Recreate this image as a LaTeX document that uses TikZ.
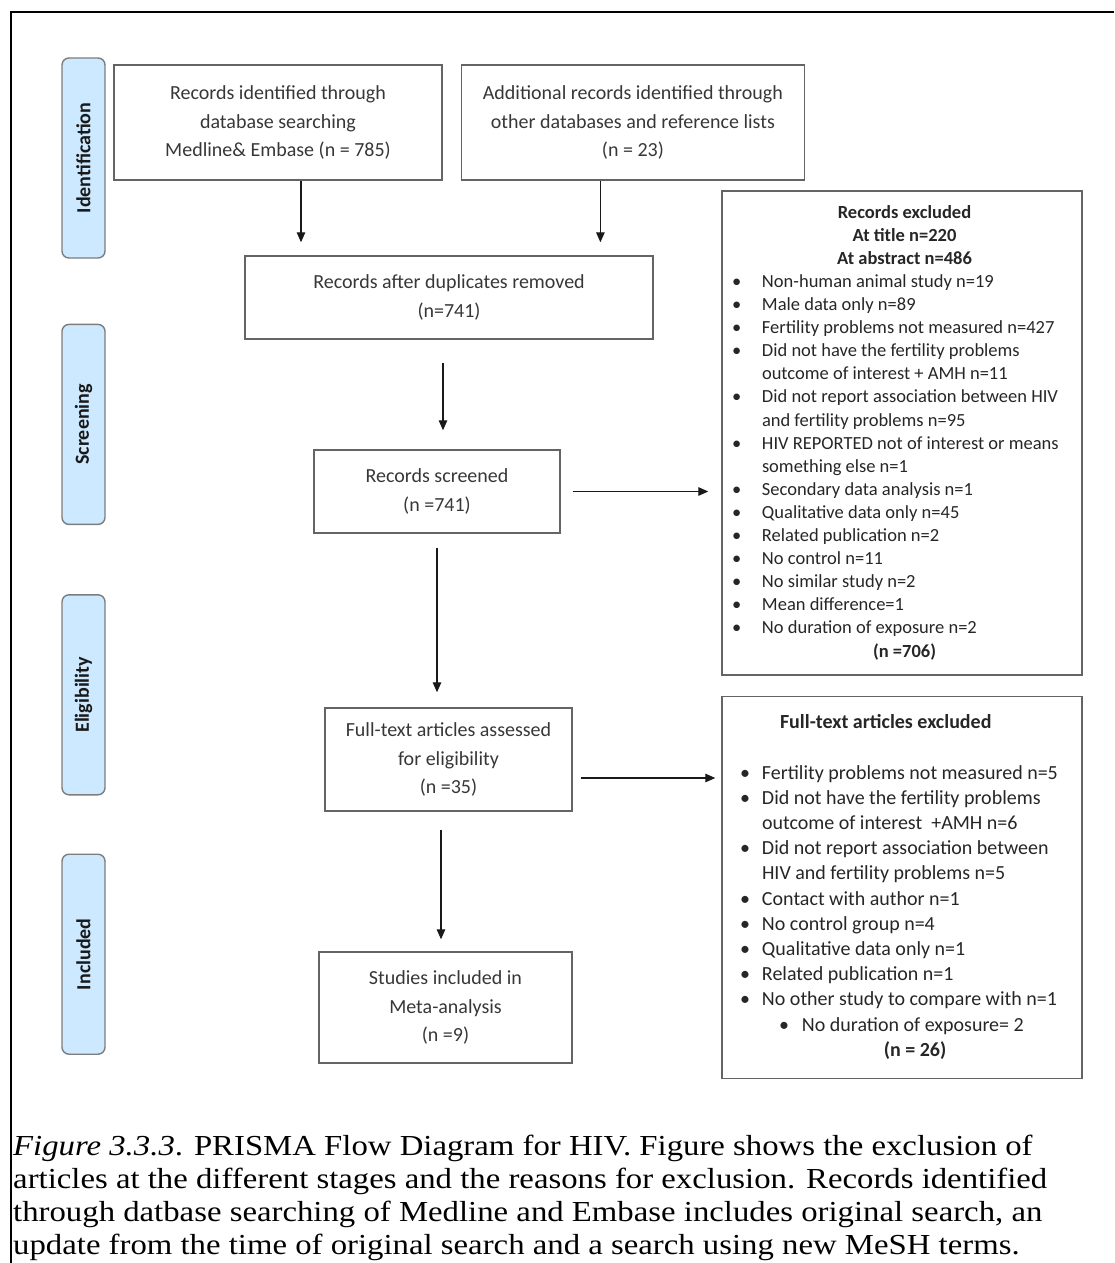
\documentclass[tikz,border=0pt]{standalone}
\usepackage{graphicx}
\usepackage{fontspec}
\setmainfont{Carlito}
\newfontfamily\capfont[FakeStretch=1.13]{Liberation Serif}
\usetikzlibrary{arrows.meta,positioning}
\definecolor{BoxGray}{RGB}{100,100,100}
\definecolor{StageBlue}{RGB}{204,233,255}
\definecolor{StageEdge}{RGB}{125,125,125}
\definecolor{TextGray}{RGB}{55,55,55}
\newcommand{\exhead}[1]{\multicolumn{2}{@{\hspace{10pt}}c@{\hspace{5pt}}}{\textbf{#1}}}

\begin{document}
\begin{tikzpicture}[
    x=1pt, y=-1pt,
    box/.style={draw=BoxGray, line width=1.4pt, rectangle, inner sep=0pt, align=center, text=TextGray, font=\fontsize{20}{28.5}\selectfont},
    stage/.style={draw=StageEdge, fill=StageBlue, line width=1.4pt, rounded corners=7pt, minimum width=43pt, minimum height=200pt, inner sep=0pt, font=\fontsize{20}{24}\selectfont\bfseries, text=black!90},
    exclbox/.style={draw=BoxGray, line width=1.4pt, rectangle, inner sep=0pt, minimum width=360pt, text=black!85},
    arrow/.style={-{Triangle[length=10pt,width=8.5pt]}, line width=1.3pt, black!90}
  ]
    \useasboundingbox (0,0) rectangle (1114,1263);
    % frame of the figure
    \draw[line width=2.4pt] (1114,12) -- (11,12) -- (11,1263);

    % stages
    \node[stage] (s1) at (83.5,158) {\rotatebox{90}{Identification}};
    \node[stage, below=65pt of s1] (s2) {\rotatebox{90}{Screening}};
    \node[stage, below=69pt of s2] (s3) {\rotatebox{90}{Eligibility}};
    \node[stage, below=58pt of s3] (s4) {\rotatebox{90}{Included}};

    % flow
    \node[box, minimum width=328pt, minimum height=115pt] (1) at (278,122.5) {Records identified through\\database searching\\Medline\& Embase (n = 785)};
    \node[box, minimum width=343pt, minimum height=115pt, right=18pt of 1] (2) {Additional records identified through\\other databases and reference lists\\(n = 23)};
    \node[box, minimum width=408pt, minimum height=83pt] (3) at (449,297.5) {Records after duplicates removed\\(n=741)};
    \node[box, minimum width=246pt, minimum height=83pt] (4) at (437,491.5) {Records screened\\(n =741)};
    \node[box, minimum width=247pt, minimum height=103pt] (5) at (448.5,759.5) {Full-text articles assessed\\for eligibility\\(n =35)};
    \node[box, minimum width=253pt, minimum height=111pt] (6) at (445.5,1007.5) {Studies included in\\Meta-analysis\\(n =9)};

    % exclusions
    \node[exclbox, minimum height=484pt, font=\fontsize{18.5}{23.1}\selectfont] (7) at (902,433) {%
      \begin{tabular}{@{\hspace{10pt}}p{30pt}@{}p{315pt}@{\hspace{5pt}}}
        \exhead{Records excluded}\\
        \exhead{At title n=220}\\
        \exhead{At abstract n=486}\\
        \textbullet & Non-human animal study n=19\\
        \textbullet & Male data only n=89\\
        \textbullet & Fertility problems not measured n=427\\
        \textbullet & Did not have the fertility problems\\
         & outcome of interest + AMH n=11\\
        \textbullet & Did not report association between HIV\\
         & and fertility problems n=95\\
        \textbullet & HIV REPORTED not of interest or means\\
         & something else n=1\\
        \textbullet & Secondary data analysis n=1\\
        \textbullet & Qualitative data only n=45\\
        \textbullet & Related publication n=2\\
        \textbullet & No control n=11\\
        \textbullet & No similar study n=2\\
        \textbullet & Mean difference=1\\
        \textbullet & No duration of exposure n=2\\
        \exhead{(n =706)}
      \end{tabular}};
    \node[exclbox, minimum height=382pt, below=20pt of 7, font=\fontsize{20}{25.2}\selectfont] (8) {%
      \begin{tabular}{@{\hspace{18pt}}p{22pt}@{}p{315pt}@{\hspace{5pt}}}
        \multicolumn{2}{@{\hspace{58pt}}l@{}}{\textbf{Full-text articles excluded}}\\
         & \\
        \textbullet & Fertility problems not measured n=5\\
        \textbullet & Did not have the fertility problems\\
         & outcome of interest\ \ +AMH n=6\\
        \textbullet & Did not report association between\\
         & HIV and fertility problems n=5\\
        \textbullet & Contact with author n=1\\
        \textbullet & No control group n=4\\
        \textbullet & Qualitative data only n=1\\
        \textbullet & Related publication n=1\\
        \textbullet & No other study to compare with n=1\\
        \multicolumn{2}{@{\hspace{57pt}}l@{}}{\makebox[23pt][l]{\textbullet}No duration of exposure= 2}\\
        \multicolumn{2}{@{\hspace{26pt}}c@{}}{\textbf{(n = 26)}}
      \end{tabular}};

    \draw[arrow, shorten >=13pt] ([xshift=23pt]1.south) -- ([xshift=23pt]1.south |- 3.north);
    \draw[arrow, shorten >=13pt] ([xshift=-32.5pt]2.south) -- ([xshift=-32.5pt]2.south |- 3.north);
    \draw[arrow, shorten <=23pt, shorten >=19pt] ([xshift=-6pt]3.south) -- ([xshift=-6pt]3.south |- 4.north);
    \draw[arrow, shorten <=14pt, shorten >=15pt] (4.south) -- (4.south |- 5.north);
    \draw[arrow, shorten <=18pt, shorten >=12pt] ([xshift=-7.5pt]5.south) -- ([xshift=-7.5pt]5.south |- 6.north);
    \draw[arrow, shorten <=12pt, shorten >=13pt] (4.east) -- (4.east -| 7.west);
    \draw[arrow, shorten <=8pt, shorten >=6pt] ([yshift=-18.5pt]5.east) -- ([yshift=-18.5pt]5.east -| 8.west);

    % caption
    \node[anchor=base west, align=left, inner sep=0pt, font=\capfont\fontsize{29}{33}\selectfont] (caption) at (13,1254) {\textit{Figure 3.3.3}. PRISMA Flow Diagram for HIV. Figure shows the exclusion of\\articles at the different stages and the reasons for exclusion. Records identified\\through datbase searching of Medline and Embase includes original search, an\\update from the time of original search and a search using new MeSH terms.};
  \end{tikzpicture}
\end{document}
